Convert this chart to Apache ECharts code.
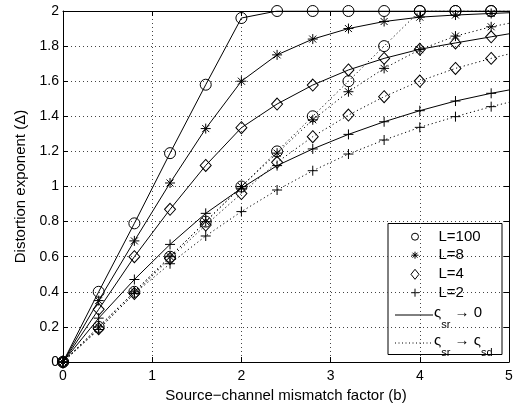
<!DOCTYPE html>
<html>
<head>
<meta charset="utf-8">
<script src="https://cdn.jsdelivr.net/npm/echarts@6.0.0/dist/echarts.min.js"></script>
<style>
  html, body { margin: 0; padding: 0; background: #fff; }
  #chart { width: 516px; height: 408px; }
</style>
</head>
<body>
<div id="chart"></div>
<script>
// mismatch factor b (last point is the curve end at the frame, no marker)
var bValues = [0, 0.4, 0.8, 1.2, 1.6, 2.0, 2.4, 2.8, 3.2, 3.6, 4.0, 4.4, 4.8, 5.0];

// solid curves: sigma_sr -> 0
var l100Solid = [0, 0.40, 0.79, 1.19, 1.58, 1.96, 2.0, 2.0, 2.0, 2.0, 2.0, 2.0, 2.0, 2.0];
var l8Solid   = [0, 0.35, 0.69, 1.02, 1.33, 1.60, 1.75, 1.84, 1.90, 1.94, 1.965, 1.977, 1.986, 1.99];
var l4Solid   = [0, 0.30, 0.60, 0.87, 1.12, 1.335, 1.47, 1.578, 1.664, 1.73, 1.782, 1.818, 1.853, 1.87];
var l2Solid   = [0, 0.25, 0.47, 0.67, 0.847, 0.99, 1.119, 1.214, 1.297, 1.369, 1.432, 1.487, 1.531, 1.55];

// dotted curves: sigma_sr -> sigma_sd
var l100Dotted = [0, 0.2, 0.4, 0.6, 0.8, 1.0, 1.2, 1.4, 1.6, 1.8, 2.0, 2.0, 2.0, 2.0];
var l8Dotted   = [0, 0.2, 0.4, 0.6, 0.8, 1.0, 1.19, 1.38, 1.54, 1.673, 1.78, 1.857, 1.91, 1.93];
var l4Dotted   = [0, 0.19, 0.39, 0.59, 0.78, 0.96, 1.138, 1.284, 1.407, 1.512, 1.601, 1.673, 1.73, 1.755];
var l2Dotted   = [0, 0.185, 0.39, 0.56, 0.718, 0.857, 0.98, 1.09, 1.185, 1.265, 1.337, 1.398, 1.455, 1.48];

var legendNames = ['L=100', 'L=8', 'L=4', 'L=2'];

var FONT = '"Liberation Sans", Arial, sans-serif';
var PLUS = 'path://M5,0L5,10M0,5L10,5';
var STAR = 'path://M5,0L5,10M0,5L10,5M1.5,1.5L8.5,8.5M1.5,8.5L8.5,1.5';

var markers = [
  { symbol: 'circle', size: 11 },
  { symbol: STAR, size: 10 },
  { symbol: 'diamond', size: [11, 12] },
  { symbol: PLUS, size: 10 }
];

function toPoints(vals) {
  var pts = [];
  for (var i = 0; i < vals.length; i++) {
    if (bValues[i] >= 5) {
      pts.push({ value: [bValues[i], vals[i]], symbol: 'none' });
    } else {
      pts.push([bValues[i], vals[i]]);
    }
  }
  return pts;
}

function makeSeries(name, vals, mk, dotted) {
  return {
    name: name,
    type: 'line',
    xAxisIndex: 0,
    yAxisIndex: 0,
    data: toPoints(vals),
    symbol: mk.symbol,
    symbolSize: mk.size,
    showAllSymbol: true,
    animation: false,
    silent: true,
    lineStyle: {
      color: '#000',
      width: 1,
      type: dotted ? [1.2, 2.8] : 'solid'
    },
    itemStyle: {
      color: 'none',
      borderColor: '#000',
      borderWidth: 1
    },
    z: 3
  };
}

var series = [
  makeSeries('L=100', l100Solid, markers[0], false),
  makeSeries('L=8', l8Solid, markers[1], false),
  makeSeries('L=4', l4Solid, markers[2], false),
  makeSeries('L=2', l2Solid, markers[3], false),
  makeSeries('L=100 d', l100Dotted, markers[0], true),
  makeSeries('L=8 d', l8Dotted, markers[1], true),
  makeSeries('L=4 d', l4Dotted, markers[2], true),
  makeSeries('L=2 d', l2Dotted, markers[3], true)
];

var gridLine = { show: true, lineStyle: { color: '#444', width: 1, type: [1, 3] } };
var tick = { show: true, inside: true, length: 5, lineStyle: { color: '#000' } };
var line = { show: true, onZero: false, lineStyle: { color: '#000', width: 1 } };

// legend drawn as a boxed key (MATLAB style)
var lgX = 388, lgY = 223.5, mx = 415;
var rowY = [236.7, 255.2, 274.3, 292.7, 313, 341];
var blk = { stroke: '#000', lineWidth: 1, fill: 'none' };
function seg(x1, y1, x2, y2) {
  return { type: 'line', shape: { x1: x1, y1: y1, x2: x2, y2: y2 }, style: blk };
}
var legendItems = [
  { type: 'rect', shape: { x: lgX, y: lgY, width: 114, height: 131 },
    style: { fill: '#fff', stroke: '#000', lineWidth: 1 } },
  { type: 'circle', shape: { cx: mx, cy: rowY[0], r: 3.5 }, style: blk },
  seg(mx, rowY[1] - 3.5, mx, rowY[1] + 3.5),
  seg(mx - 3.5, rowY[1], mx + 3.5, rowY[1]),
  seg(mx - 2.5, rowY[1] - 2.5, mx + 2.5, rowY[1] + 2.5),
  seg(mx - 2.5, rowY[1] + 2.5, mx + 2.5, rowY[1] - 2.5),
  { type: 'polygon', shape: { points: [[mx, rowY[2] - 5], [mx + 4, rowY[2]], [mx, rowY[2] + 5], [mx - 4, rowY[2]]] },
    style: blk },
  seg(mx, rowY[3] - 4, mx, rowY[3] + 4),
  seg(mx - 4, rowY[3], mx + 4, rowY[3]),
  seg(395, 315, 433, 315),
  { type: 'line', shape: { x1: 395, y1: 343, x2: 433, y2: 343 },
    style: { stroke: '#000', lineWidth: 1, lineDash: [1, 2.5] } }
];
for (var i = 0; i < legendNames.length; i++) {
  legendItems.push({
    type: 'text', x: 438.5, y: rowY[i],
    style: { text: legendNames[i], fill: '#000', font: '15px ' + FONT, verticalAlign: 'middle' }
  });
}
var subRich = {
  m: { fontSize: 15, fontFamily: FONT, fill: '#000', lineHeight: 34, verticalAlign: 'middle' },
  s: { fontSize: 11, fontFamily: FONT, fill: '#000', lineHeight: 34, verticalAlign: 'bottom' }
};
legendItems.push({
  type: 'text', x: 434, y: rowY[4],
  style: { text: '{m|ς}{s|sr}{m| → 0}', rich: subRich, verticalAlign: 'middle' }
});
legendItems.push({
  type: 'text', x: 434, y: rowY[5],
  style: { text: '{m|ς}{s|sr}{m| → ς}{s|sd}', rich: subRich, verticalAlign: 'middle' }
});

var chart = echarts.init(document.getElementById('chart'), null, { renderer: 'canvas' });

var option = {
  backgroundColor: '#fff',
  animation: false,
  grid: { left: 63, right: 7, top: 11, bottom: 46, show: false },
  xAxis: [
    {
      type: 'value', min: 0, max: 5, interval: 1, position: 'bottom',
      name: 'Source\u2212channel mismatch factor (b)',
      nameLocation: 'middle', nameGap: 22,
      nameTextStyle: { color: '#000', fontSize: 15, fontFamily: FONT },
      axisLine: line, axisTick: tick, splitLine: gridLine,
      axisLabel: { color: '#000', fontSize: 14, fontFamily: FONT, margin: 7 }
    },
    {
      type: 'value', min: 0, max: 5, interval: 1, position: 'top',
      axisLine: line, axisTick: tick, splitLine: { show: false },
      axisLabel: { show: false }
    }
  ],
  yAxis: [
    {
      type: 'value', min: 0, max: 2, interval: 0.2, position: 'left',
      name: 'Distortion exponent (\u0394)',
      nameLocation: 'middle', nameGap: 30,
      nameTextStyle: { color: '#000', fontSize: 15, fontFamily: FONT },
      axisLine: line, axisTick: tick, splitLine: gridLine,
      axisLabel: { color: '#000', fontSize: 14, fontFamily: FONT, margin: 4 }
    },
    {
      type: 'value', min: 0, max: 2, interval: 0.2, position: 'right',
      axisLine: line, axisTick: tick, splitLine: { show: false },
      axisLabel: { show: false }
    }
  ],
  series: series,
  graphic: [{ type: 'group', z: 100, children: legendItems }]
};

chart.setOption(option);
</script>
</body>
</html>
